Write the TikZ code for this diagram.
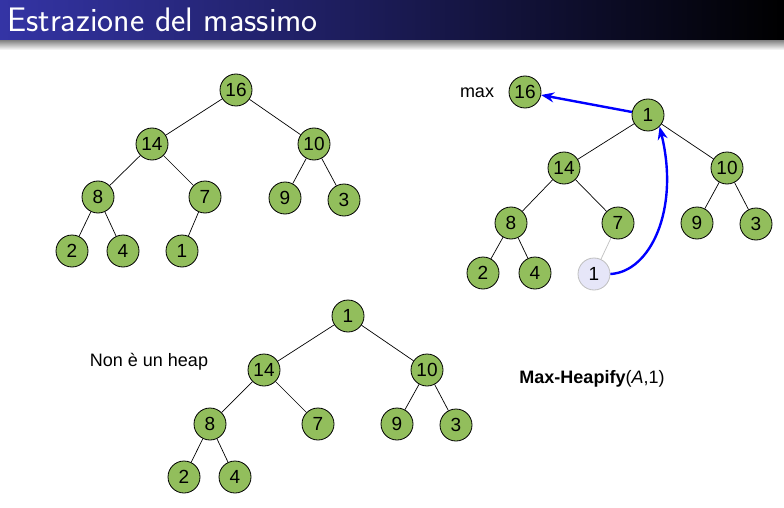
\documentclass[tikz,border=0pt]{standalone}
\usepackage{fontspec}
\newfontfamily\nodefont{Liberation Sans}
\usetikzlibrary{arrows.meta}
\definecolor{nodegreen}{RGB}{146,190,92}
\definecolor{lightnode}{RGB}{230,230,248}
\definecolor{titleblue}{RGB}{52,52,165}
\begin{document}
\begin{tikzpicture}[x=1pt,y=-1pt,
  hn/.style={circle,draw=black,line width=0.8pt,fill=nodegreen,minimum size=32pt,inner sep=0pt,font=\nodefont\fontsize{19}{19}\selectfont},
  ln/.style={hn,draw=black!25,fill=lightnode},
  ed/.style={draw=black,line width=0.7pt},
  led/.style={draw=black!25,line width=0.7pt},
  bluearrow/.style={draw=blue,line width=2.4pt,-{Stealth[length=13pt,width=10pt]}},
  lbl/.style={font=\nodefont\fontsize{18}{18}\selectfont}]
\useasboundingbox (0,0) rectangle (784,508);
\fill[white] (0,0) rectangle (784,508);
% title bar
\shade[left color=titleblue,right color=black] (0,0) rectangle (784,41);
\shade[top color=black!45,bottom color=white] (0,41) rectangle (784,50);
\node[anchor=west,text=white,font=\sffamily\fontsize{34}{34}\selectfont,inner sep=0pt] (title) at (7,20) {Estrazione del massimo};

% tree 1
\node[hn] (a16) at (236,90) {16};
\node[hn] (a14) at (152,144) {14};
\node[hn] (a10) at (314,144) {10};
\node[hn] (a8) at (98,197) {8};
\node[hn] (a7) at (205,197) {7};
\node[hn] (a9) at (285,198) {9};
\node[hn] (a3) at (344,200) {3};
\node[hn] (a2) at (72,251) {2};
\node[hn] (a4) at (123,251) {4};
\node[hn] (a1) at (182,251) {1};
\draw[ed] (a16)--(a14); \draw[ed] (a16)--(a10);
\draw[ed] (a14)--(a8); \draw[ed] (a14)--(a7);
\draw[ed] (a10)--(a9); \draw[ed] (a10)--(a3);
\draw[ed] (a8)--(a2); \draw[ed] (a8)--(a4);
\draw[ed] (a7)--(a1);

% tree 2
\node[lbl] (maxlbl) at (477,93) {max};
\node[hn] (b16) at (525,92) {16};
\node[hn] (b1) at (648,115) {1};
\node[hn] (b14) at (564,168) {14};
\node[hn] (b10) at (727,168) {10};
\node[hn] (b8) at (511,223) {8};
\node[hn] (b7) at (618,223) {7};
\node[hn] (b9) at (697,223) {9};
\node[hn] (b3) at (756,224) {3};
\node[hn] (b2) at (483,273) {2};
\node[hn] (b4) at (535,273) {4};
\node[ln] (bl1) at (594,274) {1};
\draw[ed] (b1)--(b14); \draw[ed] (b1)--(b10);
\draw[ed] (b14)--(b8); \draw[ed] (b14)--(b7);
\draw[ed] (b10)--(b9); \draw[ed] (b10)--(b3);
\draw[ed] (b8)--(b2); \draw[ed] (b8)--(b4);
\draw[led] (b7)--(bl1);
\draw[bluearrow] (b1) -- (b16);
\draw[bluearrow] (bl1.east) .. controls (650,272) and (680,210) .. (b1.south east);

% tree 3
\node[lbl] (nonheap) at (149,362) {Non è un heap};
\node[hn] (c1) at (348,316) {1};
\node[hn] (c14) at (264,370) {14};
\node[hn] (c10) at (427,370) {10};
\node[hn] (c8) at (210,424) {8};
\node[hn] (c7) at (318,424) {7};
\node[hn] (c9) at (397,424) {9};
\node[hn] (c3) at (456,425) {3};
\node[hn] (c2) at (184,477) {2};
\node[hn] (c4) at (235,477) {4};
\draw[ed] (c1)--(c14); \draw[ed] (c1)--(c10);
\draw[ed] (c14)--(c8); \draw[ed] (c14)--(c7);
\draw[ed] (c10)--(c9); \draw[ed] (c10)--(c3);
\draw[ed] (c8)--(c2); \draw[ed] (c8)--(c4);

\node[lbl] (heapify) at (592,379) {\textbf{Max-Heapify}(\textit{A},1)};
\end{tikzpicture}
\end{document}
